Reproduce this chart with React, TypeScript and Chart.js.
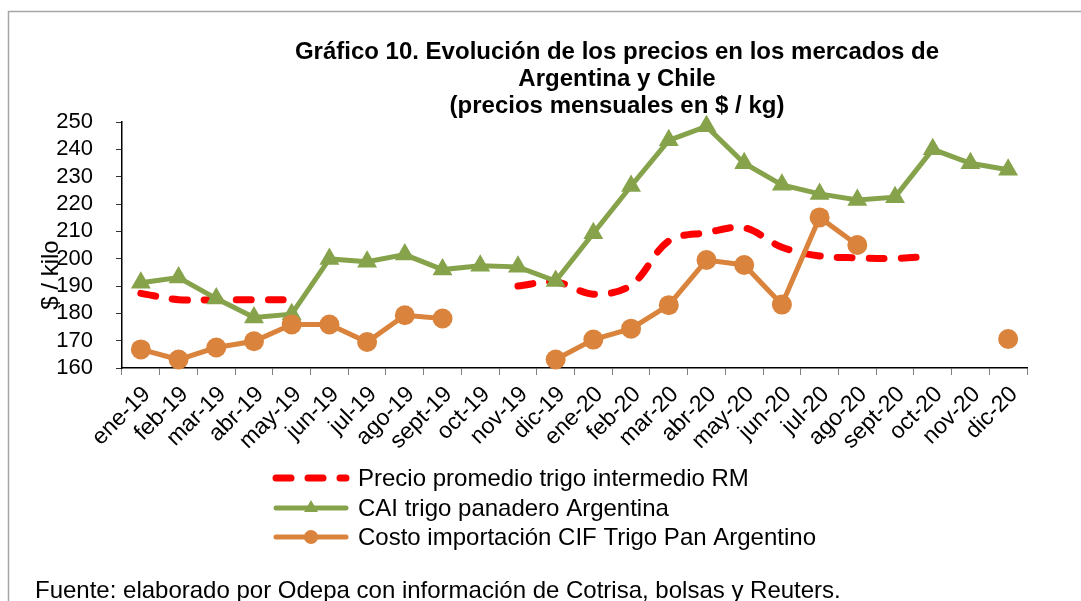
import React, { useEffect, useRef } from 'react';
import { Chart, registerables } from 'chart.js';

Chart.register(...registerables);

const categories = [
  'ene-19', 'feb-19', 'mar-19', 'abr-19', 'may-19', 'jun-19', 'jul-19', 'ago-19',
  'sept-19', 'oct-19', 'nov-19', 'dic-19', 'ene-20', 'feb-20', 'mar-20', 'abr-20',
  'may-20', 'jun-20', 'jul-20', 'ago-20', 'sept-20', 'oct-20', 'nov-20', 'dic-20',
];

const precioPromedioRM = [
  187.3, 185, 185, 185, 185, null, null, null,
  null, null, 190, 191.5, 187, 190.3, 206.5, 209.5,
  211.3, 204.2, 201, 200.3, 200.1, 201, null, null,
];

const caiArgentina = [
  191.2, 193.1, 185.4, 178.5, 179.7, 199.9, 198.9, 201.5,
  196, 197.4, 197, 191.8, 209.3, 226.6, 243.3, 248.4,
  234.9, 227, 223.7, 221.5, 222.5, 240, 234.9, 232.5,
];

const cifArgentina = [
  166.8, 163.1, 167.5, 169.8, 175.9, 175.9, 169.5, 179.3,
  178.1, null, null, 163.1, 170.4, 174.4, 183, 199.5,
  197.7, 183.2, 215.1, 205, null, null, null, 170.6,
];

const seriesLabels = [
  'Precio promedio trigo intermedio RM',
  'CAI trigo panadero Argentina',
  'Costo importación CIF Trigo Pan Argentino',
];

const yMin = 160;
const yMax = 250;
const yStep = 10;

const titleLines = [
  'Gráfico 10. Evolución de los precios en los mercados de',
  'Argentina y Chile',
  '(precios mensuales en $ / kg)',
];
const yAxisTitle = '$ / kilo';
const sourceNote = 'Fuente: elaborado por Odepa con información de Cotrisa, bolsas y Reuters.';

const FONT = '"Liberation Sans", Arial, Helvetica, sans-serif';
const RED = '#FF0000';
const GREEN = '#86A34B';
const ORANGE = '#DA833C';

const decorPlugin = {
  id: 'decor',
  beforeDraw(chart: any) {
    const ctx = chart.ctx;
    ctx.save();
    ctx.fillStyle = '#ffffff';
    ctx.fillRect(0, 0, chart.width, chart.height);
    ctx.strokeStyle = '#a6a6a6';
    ctx.lineWidth = 1.5;
    ctx.beginPath();
    ctx.moveTo(8.5, chart.height);
    ctx.lineTo(8.5, 11.5);
    ctx.lineTo(chart.width, 11.5);
    ctx.stroke();
    ctx.restore();
  },
  afterDraw(chart: any) {
    const ctx = chart.ctx;
    ctx.save();
    ctx.fillStyle = '#000';
    // title
    ctx.font = `bold 24px ${FONT}`;
    ctx.textAlign = 'center';
    ctx.textBaseline = 'alphabetic';
    titleLines.forEach((t, i) => ctx.fillText(t, 617, 59 + i * 27));
    // y-axis title
    ctx.save();
    ctx.translate(51, 275);
    ctx.rotate(-Math.PI / 2);
    ctx.font = `24px ${FONT}`;
    ctx.textBaseline = 'middle';
    ctx.textAlign = 'center';
    ctx.fillText(yAxisTitle, 0, 0);
    ctx.restore();
    // legend
    const rows = [478, 508, 537];
    const x0 = 276;
    const x1 = 346;
    chart.data.datasets.forEach((ds: any, i: number) => {
      const y = rows[i];
      ctx.save();
      ctx.strokeStyle = ds.borderColor;
      ctx.lineWidth = ds.borderWidth;
      ctx.lineCap = 'round';
      ctx.setLineDash(ds.borderDash || []);
      ctx.beginPath();
      ctx.moveTo(x0, y);
      ctx.lineTo(x1, y);
      ctx.stroke();
      ctx.setLineDash([]);
      const cx = (x0 + x1) / 2;
      ctx.fillStyle = ds.pointBackgroundColor || ds.borderColor;
      if (ds.pointStyle === 'triangle') {
        const r = 8;
        ctx.beginPath();
        ctx.moveTo(cx, y - r);
        ctx.lineTo(cx + r * Math.sin(2 * Math.PI / 3), y - r * Math.cos(2 * Math.PI / 3));
        ctx.lineTo(cx + r * Math.sin(4 * Math.PI / 3), y - r * Math.cos(4 * Math.PI / 3));
        ctx.closePath();
        ctx.fill();
      } else if (ds.pointStyle === 'circle' && ds.pointRadius > 0) {
        ctx.beginPath();
        ctx.arc(cx, y, 7, 0, Math.PI * 2);
        ctx.fill();
      }
      ctx.restore();
      ctx.fillStyle = '#000';
      ctx.font = `24px ${FONT}`;
      ctx.textAlign = 'left';
      ctx.textBaseline = 'middle';
      ctx.fillText(ds.label, 358, y + 1);
    });
    // source
    ctx.font = `24px ${FONT}`;
    ctx.textAlign = 'left';
    ctx.textBaseline = 'alphabetic';
    ctx.fillText(sourceNote, 35, 598);
    ctx.restore();
  },
};

export default function App() {
  const canvasRef = useRef<HTMLCanvasElement | null>(null);

  useEffect(() => {
    const canvas = canvasRef.current;
    if (!canvas) return;
    const chart = new Chart(canvas, {
      type: 'line',
      data: {
        labels: categories,
        datasets: [
          {
            label: seriesLabels[0],
            data: precioPromedioRM,
            borderColor: RED,
            backgroundColor: RED,
            borderWidth: 7,
            borderDash: [15, 17],
            borderCapStyle: 'round',
            tension: 0.35,
            pointRadius: 0,
            pointStyle: 'circle',
            spanGaps: false,
            clip: false,
            order: 3,
          },
          {
            label: seriesLabels[1],
            data: caiArgentina,
            borderColor: GREEN,
            backgroundColor: GREEN,
            pointBackgroundColor: GREEN,
            pointBorderColor: GREEN,
            borderWidth: 5,
            tension: 0,
            pointStyle: 'triangle',
            pointRadius: 11.5,
            pointBorderWidth: 0,
            clip: false,
            order: 2,
          },
          {
            label: seriesLabels[2],
            data: cifArgentina,
            borderColor: ORANGE,
            backgroundColor: ORANGE,
            pointBackgroundColor: ORANGE,
            pointBorderColor: ORANGE,
            borderWidth: 5,
            tension: 0,
            pointStyle: 'circle',
            pointRadius: 10,
            pointBorderWidth: 0,
            spanGaps: false,
            clip: false,
            order: 1,
          },
        ],
      },
      options: {
        responsive: false,
        animation: false,
        devicePixelRatio: 1,
        layout: { padding: { left: 0, top: 122, right: 54, bottom: 133 } },
        plugins: {
          legend: { display: false },
          title: { display: false },
          tooltip: { enabled: false },
        },
        scales: {
          x: {
            type: 'category',
            offset: true,
            afterFit: (scale: any) => { scale.height = 100; },
            grid: {
              display: true,
              drawOnChartArea: false,
              drawTicks: true,
              tickLength: 7,
              offset: true,
              tickColor: '#7f7f7f',
            },
            border: { display: true, color: '#000', width: 1.5 },
            ticks: {
              autoSkip: false,
              maxRotation: 45,
              minRotation: 45,
              padding: 6,
              labelOffset: 6,
              color: '#000',
              font: { family: FONT, size: 23 },
            },
          },
          y: {
            min: yMin,
            max: yMax,
            afterFit: (scale: any) => { scale.width = 122; },
            grid: {
              display: true,
              drawOnChartArea: false,
              drawTicks: true,
              tickLength: 6,
              tickColor: '#333',
            },
            border: { display: true, color: '#000', width: 1.5 },
            ticks: {
              stepSize: yStep,
              autoSkip: false,
              padding: 23,
              color: '#000',
              font: { family: FONT, size: 22 },
            },
          },
        },
      },
      plugins: [decorPlugin],
    } as any);
    return () => chart.destroy();
  }, []);

  return (
    <div style={{ position: 'absolute', left: 0, top: 0, width: 1081, height: 601, background: '#fff' }}>
      <canvas ref={canvasRef} width={1081} height={601} style={{ display: 'block' }} />
    </div>
  );
}
